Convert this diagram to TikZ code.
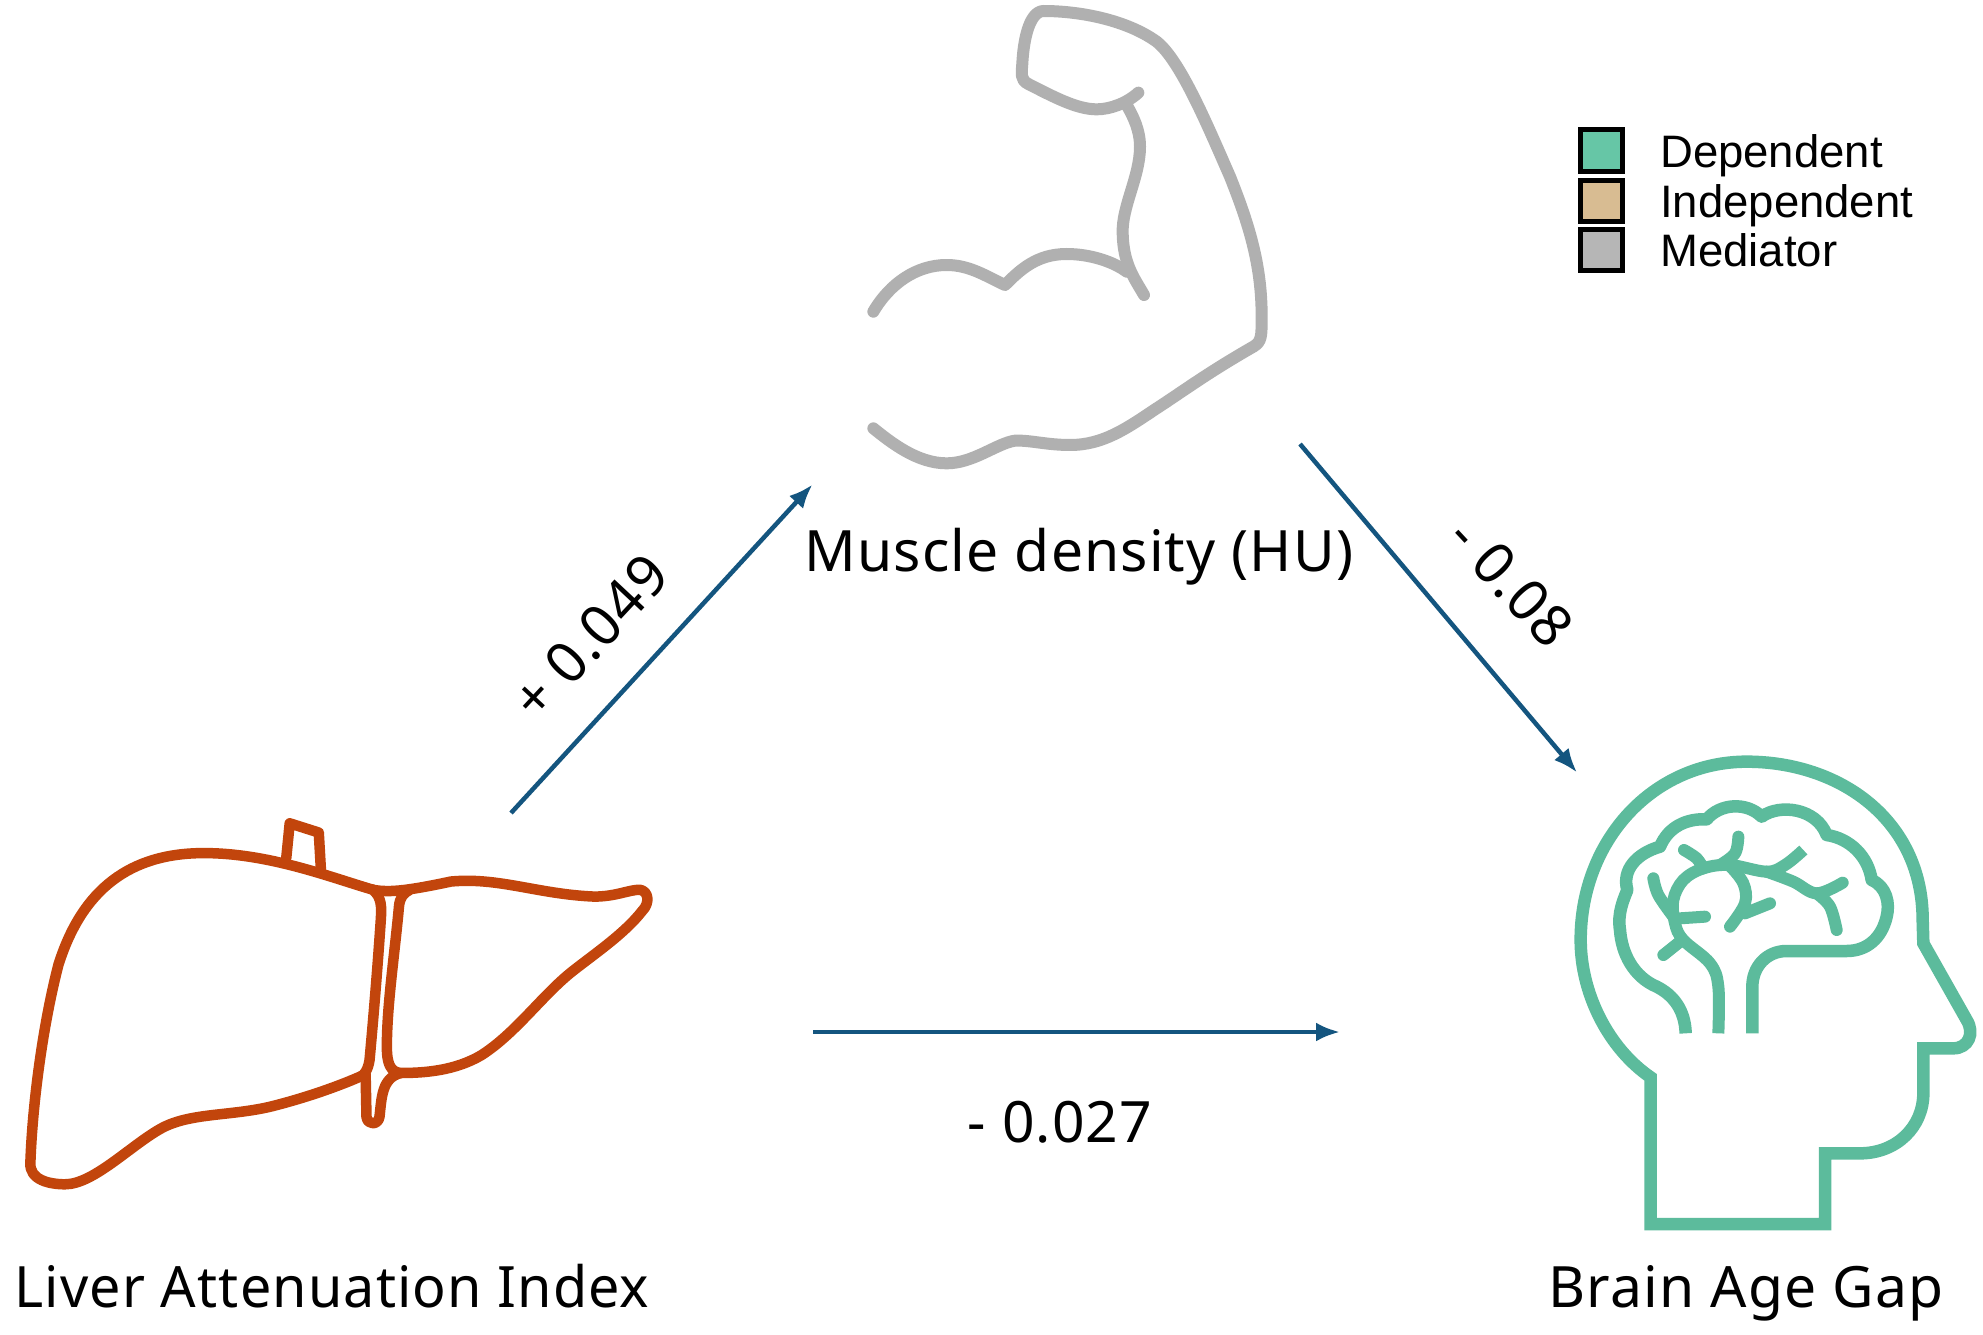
\documentclass[tikz,border=0pt]{standalone}
\usepackage{fontspec}
\setmainfont[LetterSpace=2]{Noto Sans}
\newfontfamily\legendfont{Liberation Sans}
\usetikzlibrary{arrows.meta}
\definecolor{liverc}{HTML}{C2450C}
\definecolor{brainc}{HTML}{5CBB9C}
\definecolor{musclec}{HTML}{B0B0B0}
\definecolor{arrowc}{HTML}{14557F}
\definecolor{legA}{HTML}{66C6A6}
\definecolor{legB}{HTML}{D8BC92}
\definecolor{legC}{HTML}{B6B6B6}
\tikzset{
  liverline/.style={draw=liverc,line width=10.5pt,line cap=round,line join=round},
  brainline/.style={draw=brainc,line width=12.5pt,line join=miter},
  brainthin/.style={draw=brainc,line width=12pt,line cap=round,line join=round},
  muscleline/.style={draw=musclec,line width=12pt,line cap=round,line join=round},
  link/.style={draw=arrowc,line width=4.5pt,-{Latex[length=24pt,width=19pt]}},
  biglabel/.style={font=\fontsize{57}{60}\selectfont,text=black,inner sep=0pt},
  leglabel/.style={font=\legendfont\fontsize{45.5}{48}\selectfont,text=black,anchor=base west,inner sep=0pt},
  legbox/.style={draw=black,line width=5pt,minimum width=42pt,minimum height=41pt,inner sep=0pt},
  sm/.style={smooth,tension=0.6}
}
\begin{document}
\begin{tikzpicture}[x=1pt,y=-1pt]
\useasboundingbox[fill=white] (0,0) rectangle (1983,1335);
% liver
\begin{scope}[shift={(0,800)},xscale=0.4337,yscale=0.3425]
\draw[liverline] (860,262) .. controls (760,225) and (620,155) .. (470,155)
  .. controls (300,155) and (190,260) .. (135,480)
  .. controls (100,650) and (75,880) .. (70,1060)
  .. controls (68,1110) and (115,1122) .. (150,1122)
  .. controls (215,1122) and (300,1010) .. (370,960)
  .. controls (440,910) and (540,925) .. (640,890)
  .. controls (730,860) and (800,825) .. (835,805);
\draw[liverline] (860,262) .. controls (900,272) and (950,262) .. (1040,238)
  .. controls (1150,225) and (1240,275) .. (1370,282)
  .. controls (1420,282) and (1450,262) .. (1475,262)
  .. controls (1495,265) and (1500,300) .. (1480,325)
  .. controls (1440,390) and (1370,450) .. (1320,500)
  .. controls (1250,570) and (1190,680) .. (1110,745)
  .. controls (1050,790) and (980,797) .. (925,797)
  .. controls (900,795) and (892,770) .. (892,720)
  .. controls (892,600) and (910,450) .. (920,310)
  .. controls (922,285) and (930,272) .. (945,262);
\draw[liverline] (860,262) .. controls (880,285) and (880,310) .. (878,350)
  .. controls (870,500) and (860,650) .. (852,760)
  .. controls (848,790) and (840,800) .. (835,805);
\draw[liverline] (843,800) -- (845,925) .. controls (847,950) and (872,950) .. (875,925)
  .. controls (880,870) and (880,810) .. (925,797);
\draw[liverline] (660,170) -- (668,68) -- (735,95) -- (740,205);
\end{scope}
% head
\begin{scope}[shift={(1540,740)},scale=1/3]
\draw[brainline] (1150,610) -- (1148,540) .. controls (1148,240) and (900,65) .. (620,65)
  .. controls (340,65) and (122,300) .. (122,600)
  .. controls (122,760) and (205,925) .. (332,1012)
  -- (332,1452) -- (855,1452) -- (855,1240) -- (960,1240) .. controls (1070,1240) and (1150,1160) .. (1150,1060) -- (1150,925) -- (1240,925) .. controls (1285,925) and (1305,880) .. (1280,840) -- cycle;
% brain outline
\draw[brainline,line join=round] (437,880) .. controls (435,810) and (400,765) .. (350,740)
  .. controls (280,710) and (245,640) .. (240,570)
  .. controls (232,520) and (250,480) .. (262,450)
  .. controls (245,390) and (290,340) .. (360,320)
  .. controls (385,260) and (440,235) .. (500,238)
  .. controls (540,190) and (620,185) .. (665,230)
  .. controls (720,190) and (830,205) .. (860,285)
  .. controls (930,295) and (985,350) .. (995,420)
  .. controls (1040,440) and (1050,490) .. (1040,530)
  .. controls (1025,595) and (980,633) .. (920,633)
  -- (740,633) .. controls (680,633) and (637,680) .. (637,740) -- (637,880);
% branches
\draw[brainthin,line cap=butt] plot[sm] coordinates {(535,880) (535,740) (510,670) (430,600) (405,550) (400,480) (430,420) (490,385) (570,375) (680,395) (735,375) (790,330)};
\draw[brainthin] plot[sm] coordinates {(432,330) (470,355) (490,385)};
\draw[brainthin] plot[sm] coordinates {(595,290) (585,340) (540,375)};
\draw[brainthin] plot[sm] coordinates {(340,415) (355,465) (400,530)};
\draw[brainthin] (420,535) -- (495,530);
\draw[brainthin] (370,645) -- (420,605);
\draw[brainthin] plot[sm] coordinates {(570,378) (610,430) (615,490) (570,560)};
\draw[brainthin] (615,520) -- (690,490);
\draw[brainthin] plot[sm] coordinates {(680,395) (760,425) (830,460) (908,428)};
\draw[brainthin] plot[sm] coordinates {(830,460) (870,500) (890,570)};
\end{scope}
% muscle
\begin{scope}[shift={(840,0)},scale=1/3]
\draw[muscleline] (100,935) .. controls (150,850) and (230,795) .. (320,795)
  .. controls (390,795) and (440,830) .. (495,855)
  .. controls (540,810) and (590,762) .. (680,762)
  .. controls (750,762) and (820,785) .. (860,815);
\draw[muscleline] (912,885) .. controls (880,830) and (850,790) .. (848,700)
  .. controls (845,620) and (900,530) .. (900,440)
  .. controls (900,390) and (880,350) .. (860,315);
\draw[muscleline] (895,278) .. controls (860,310) and (810,328) .. (770,328)
  .. controls (710,328) and (640,290) .. (565,252)
  .. controls (540,240) and (545,220) .. (547,190)
  .. controls (550,130) and (565,35) .. (610,33)
  .. controls (720,33) and (860,60) .. (950,125)
  .. controls (1020,180) and (1100,370) .. (1170,530)
  .. controls (1230,680) and (1265,800) .. (1265,950)
  .. controls (1265,1010) and (1265,1025) .. (1240,1040)
  .. controls (1100,1120) and (1020,1180) .. (950,1225)
  .. controls (860,1285) and (790,1335) .. (690,1335)
  .. controls (620,1335) and (570,1320) .. (525,1322)
  .. controls (470,1330) and (400,1390) .. (320,1390)
  .. controls (230,1390) and (150,1325) .. (100,1285);
\end{scope}
% arrows
\coordinate (a1) at (511,813); \coordinate (a2) at (812.5,484.5);
\coordinate (b1) at (1300,444); \coordinate (b2) at (1577,772.5);
\coordinate (c1) at (813,1032); \coordinate (c2) at (1340,1032);
\draw[link] (a1) -- (a2);
\draw[link] (b1) -- (b2);
\draw[link] (c1) -- (c2);
% labels
\node[biglabel,anchor=base] (muscle) at (1079,571) {Muscle density (HU)};
\node[biglabel,anchor=base,xscale=0.977] (liver) at (332,1307) {Liver Attenuation Index};
\node[biglabel,anchor=base] (brain) at (1746,1307) {Brain Age Gap};
\node[biglabel,rotate=47] (e1) at (590,637) {+ 0.049};
\node[biglabel,rotate=-47] (e2) at (1511,582) {- 0.08};
\node[biglabel] (e3) at (1060,1122) {- 0.027};
% legend
\node[legbox,fill=legA] (k1) at (1601.5,150.5) {};
\node[legbox,fill=legB] (k2) at (1601.5,200.5) {};
\node[legbox,fill=legC] (k3) at (1601.5,250) {};
\node[leglabel] (t1) at (1660,167) {Dependent};
\node[leglabel] (t2) at (1660,217) {Independent};
\node[leglabel] (t3) at (1660,266) {Mediator};
\end{tikzpicture}
\end{document}
